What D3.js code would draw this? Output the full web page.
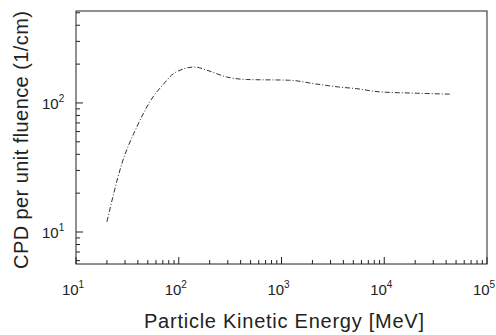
<!DOCTYPE html>
<html lang="en">
<head>
<meta charset="utf-8">
<script src="https://d3js.org/d3.v7.min.js"></script>
<style>
  body { margin: 0; background: #fff; font-family: "Liberation Sans", Arial, sans-serif; }
</style>
</head>
<body>
<script>
// (log-log)
var energy = [20, 28, 39, 56, 70, 91, 143, 186, 292, 457, 1200, 2200, 3600, 5400, 8900, 20500, 45000];
var cpd    = [12, 34, 65, 111, 138, 171, 190, 180, 159, 152, 150, 140, 133, 129, 122, 119, 117];
var xTickExp = [1, 2, 3, 4, 5];
var yTickExp = [1, 2];

var w = 496, h = 335;
var padL = 76, padR = 487, padT = 11, padB = 264;

var svg = d3.select("body").append("svg")
  .attr("width", w).attr("height", h);

var x = d3.scaleLog().domain([10, 1e5]).range([padL, padR]);
var y = d3.scaleLog().domain([5.65, 516]).range([padB, padT]);

// frame
svg.append("rect")
  .attr("x", padL).attr("y", padT)
  .attr("width", padR - padL).attr("height", padB - padT)
  .attr("fill", "none").attr("stroke", "#222").attr("stroke-width", 1);

// minor + major ticks, pointing inward
var xTicks = [];
for (var e = 1; e < 5; e++) for (var m = 1; m < 10; m++) xTicks.push(m * Math.pow(10, e));
xTicks.push(1e5);
svg.append("g").selectAll("line").data(xTicks).enter().append("line")
  .attr("x1", function(d) { return x(d); }).attr("x2", function(d) { return x(d); })
  .attr("y1", padB).attr("y2", function(d) { return padB - (Math.log10(d) % 1 === 0 ? 7 : 4); })
  .attr("stroke", "#222");

var yTicks = [6, 7, 8, 9, 10, 20, 30, 40, 50, 60, 70, 80, 90, 100, 200, 300, 400, 500];
svg.append("g").selectAll("line").data(yTicks).enter().append("line")
  .attr("y1", function(d) { return y(d); }).attr("y2", function(d) { return y(d); })
  .attr("x1", padL).attr("x2", function(d) { return padL + (Math.log10(d) % 1 === 0 ? 7 : 4); })
  .attr("stroke", "#222");

// tick labels
var xl = svg.append("g").selectAll("text").data(xTickExp).enter().append("text")
  .attr("x", function(d) { return x(Math.pow(10, d)) - 3; })
  .attr("y", 295)
  .attr("text-anchor", "middle")
  .attr("font-size", 15).attr("fill", "#222");
xl.append("tspan").text("10");
xl.append("tspan").attr("dy", -7).attr("font-size", 10).text(function(d) { return d; });

var yl = svg.append("g").selectAll("text").data(yTickExp).enter().append("text")
  .attr("x", 42)
  .attr("y", function(d) { return y(Math.pow(10, d)) + 6; })
  .attr("font-size", 15).attr("fill", "#222");
yl.append("tspan").text("10");
yl.append("tspan").attr("dy", -7).attr("font-size", 10).text(function(d) { return d; });

// curve
var line = d3.line()
  .x(function(d) { return x(d[0]); })
  .y(function(d) { return y(d[1]); })
  .curve(d3.curveMonotoneX);
svg.append("path")
  .datum(energy.map(function(e, i) { return [e, cpd[i]]; }))
  .attr("d", line)
  .attr("fill", "none").attr("stroke", "#333").attr("stroke-width", 1)
  .attr("stroke-dasharray", "5,2,1,2");

// axis titles
svg.append("text")
  .attr("x", 284).attr("y", 328)
  .attr("text-anchor", "middle")
  .attr("font-size", 20).attr("fill", "#222")
  .attr("textLength", 280)
  .text("Particle Kinetic Energy [MeV]");

svg.append("text")
  .attr("transform", "translate(28," + 140 + ") rotate(-90)")
  .attr("text-anchor", "middle")
  .attr("font-size", 20).attr("fill", "#222")
  .attr("textLength", 258)
  .text("CPD per unit fluence (1/cm)");
</script>
</body>
</html>
